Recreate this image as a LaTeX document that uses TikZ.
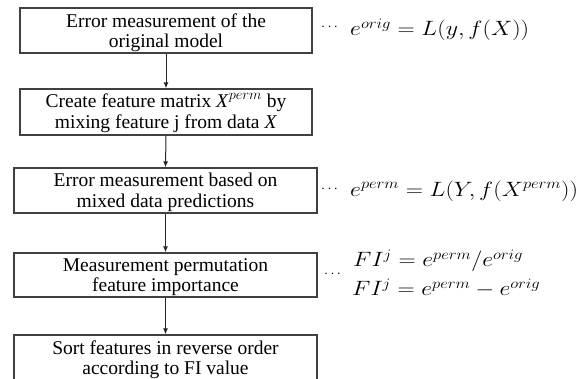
\documentclass[tikz,border=0pt]{standalone}
\usepackage{fontspec}
\usepackage{graphicx}
\setmainfont{Liberation Serif}
\DeclareMathSizes{21}{21}{15}{11}
\usetikzlibrary{arrows.meta}
\tikzset{
  stepbox/.style={draw=black!75, line width=1.4pt, inner sep=0pt},
  steptext/.style={inner sep=0pt, align=center, font=\fontsize{19.5}{20.5}\selectfont},
  flow/.style={draw=black!85, line width=1pt, -{Latex[length=6pt,width=5pt]}},
  formula/.style={anchor=west, inner sep=0pt, font=\fontsize{21}{26}\selectfont},
  dots/.style={anchor=west, inner sep=0pt, font=\fontsize{14}{14}\selectfont},
}
% formulas are set a little wider than the math font gives
\newcommand\wide[1]{\scalebox{1.15}[1]{$#1$}}
\begin{document}
\begin{tikzpicture}[x=1pt,y=1pt]
\useasboundingbox (0,0) rectangle (587,-379);
\clip (0,0) rectangle (587,-379);
% process boxes
\node[stepbox, minimum width=292pt, minimum height=45pt] (s1) at (166,-30.5) {};
\node[stepbox, minimum width=292pt, minimum height=46pt] (s2) at (166,-112) {};
\node[stepbox, minimum width=303pt, minimum height=45pt] (s3) at (165.5,-190.5) {};
\node[stepbox, minimum width=303pt, minimum height=44pt] (s4) at (165.5,-275) {};
\node[stepbox, minimum width=303pt, minimum height=47pt] (s5) at (165.5,-358.5) {};
% box captions
\node[steptext] (t1) at ([yshift=-2pt]s1.center) {Error measurement of the\\original model};
\node[steptext] (t2) at ([yshift=-1pt]s2.center) {Create feature matrix \textit{X}$^{perm}$ by\\mixing feature j from data \textit{X}};
\node[steptext] (t3) at ([yshift=-2pt]s3.center) {Error measurement based on\\mixed data predictions};
\node[steptext] (t4) at ([yshift=-2pt]s4.center) {Measurement permutation\\feature importance};
\node[steptext] (t5) at ([yshift=-1pt]s5.center) {Sort features in reverse order\\according to FI value};
% connectors
\draw[flow] (s1.south) -- (s2.north);
\draw[flow] (s2.south) -- (s3.north);
\draw[flow] (s3.south) -- (s4.north);
\draw[flow] (s4.south) -- (s5.north);
% formulas
\node[dots] (d1) at (321,-27) {$\cdots$};
\node[formula] (f1) at (350,-30) {\wide{e^{orig} = L(y, f(X))}};
\node[dots] (d3) at (321,-189) {$\cdots$};
\node[formula] (f3) at (350,-191) {\wide{e^{perm} = L(Y, f(X^{perm}))}};
\node[dots] (d4) at (324,-274) {$\cdots$};
\node[formula] (f4a) at (353,-261) {\wide{FI^{j} = e^{perm}/e^{orig}}};
\node[formula] (f4b) at (352,-288) {\wide{FI^{j} = e^{perm} - e^{orig}}};
\end{tikzpicture}
\end{document}
